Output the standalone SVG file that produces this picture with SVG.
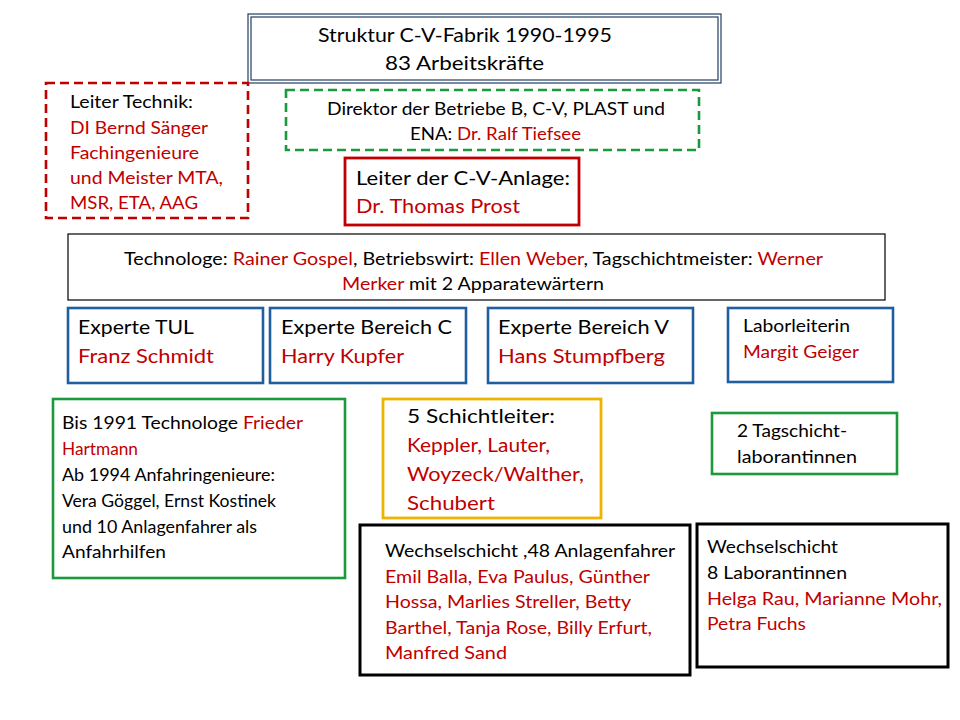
<svg xmlns="http://www.w3.org/2000/svg" width="960" height="720" viewBox="0 0 960 720">
<style>
text{font-family:Lato,"Open Sans","Liberation Sans",sans-serif;fill:#000}
.r{fill:#C00000}
.f16{font-size:16.5px}
.f19{font-size:19.5px}
.f20{font-size:20px}
.box{fill:#fff}
.blue{stroke:#1F5FA0;stroke-width:2.6}
.green{stroke:#1A9A3A;stroke-width:2.6}
</style>
<rect width="960" height="720" fill="#fff"/>
<g id="title">
<rect x="248" y="14" width="473" height="69" class="box" stroke="#243F60" stroke-width="1.2"/>
<rect x="251" y="17" width="467" height="63" fill="none" stroke="#243F60" stroke-width="1.2"/>
<text class="f20" x="318" y="42" textLength="294" lengthAdjust="spacingAndGlyphs">Struktur C-V-Fabrik 1990-1995</text>
<text class="f20" x="385" y="70" textLength="159" lengthAdjust="spacingAndGlyphs">83 Arbeitskräfte</text>
</g>
<g id="leiter-technik">
<rect x="46" y="83" width="202" height="135" class="box" stroke="#C00000" stroke-width="2.6" stroke-dasharray="9,5"/>
<text class="f16" x="70" y="108" textLength="123" lengthAdjust="spacingAndGlyphs">Leiter Technik:</text>
<text class="f16 r" x="70" y="134" textLength="138" lengthAdjust="spacingAndGlyphs">DI Bernd Sänger</text>
<text class="f16 r" x="70" y="159" textLength="129" lengthAdjust="spacingAndGlyphs">Fachingenieure</text>
<text class="f16 r" x="70" y="184" textLength="153" lengthAdjust="spacingAndGlyphs">und Meister MTA,</text>
<text class="f16 r" x="70" y="209" textLength="128" lengthAdjust="spacingAndGlyphs">MSR, ETA, AAG</text>
</g>
<g id="direktor">
<rect x="286" y="90" width="413" height="60" class="box" stroke="#1A9A3A" stroke-width="2.6" stroke-dasharray="9,5"/>
<text class="f16" x="327" y="115" textLength="338" lengthAdjust="spacingAndGlyphs">Direktor der Betriebe  B, C-V, PLAST und</text>
<text class="f16" x="410" y="140" textLength="171" lengthAdjust="spacingAndGlyphs">ENA: <tspan class="r">Dr. Ralf Tiefsee</tspan></text>
</g>
<g id="leiter-cv">
<rect x="345" y="158" width="234" height="67" class="box" stroke="#C00000" stroke-width="2.8"/>
<text class="f19" x="356" y="185" textLength="214" lengthAdjust="spacingAndGlyphs">Leiter der C-V-Anlage:</text>
<text class="f19 r" x="356" y="213" textLength="164" lengthAdjust="spacingAndGlyphs">Dr. Thomas Prost</text>
</g>
<g id="technologe">
<rect x="68" y="234" width="817" height="66" class="box" stroke="#000" stroke-width="1.2"/>
<text class="f16" x="124" y="265" textLength="699" lengthAdjust="spacingAndGlyphs">Technologe: <tspan class="r">Rainer Gospel</tspan>, Betriebswirt: <tspan class="r">Ellen Weber</tspan>, Tagschichtmeister: <tspan class="r">Werner</tspan></text>
<text class="f16" x="342" y="290" textLength="262" lengthAdjust="spacingAndGlyphs"><tspan class="r">Merker</tspan> mit 2 Apparatewärtern</text>
</g>
<g id="experte-tul">
<rect x="68" y="308" width="195" height="75" class="box blue"/>
<text class="f19" x="78" y="334" textLength="116" lengthAdjust="spacingAndGlyphs">Experte TUL</text>
<text class="f19 r" x="78" y="363" textLength="136" lengthAdjust="spacingAndGlyphs">Franz Schmidt</text>
</g>
<g id="experte-c">
<rect x="270" y="308" width="196" height="75" class="box blue"/>
<text class="f19" x="281" y="334" textLength="171" lengthAdjust="spacingAndGlyphs">Experte Bereich C</text>
<text class="f19 r" x="281" y="363" textLength="123" lengthAdjust="spacingAndGlyphs">Harry Kupfer</text>
</g>
<g id="experte-v">
<rect x="488" y="308" width="205" height="75" class="box blue"/>
<text class="f19" x="498" y="334" textLength="171" lengthAdjust="spacingAndGlyphs">Experte Bereich V</text>
<text class="f19 r" x="498" y="363" textLength="167" lengthAdjust="spacingAndGlyphs">Hans Stumpfberg</text>
</g>
<g id="laborleiterin">
<rect x="728" y="308" width="165" height="74" class="box blue"/>
<text class="f16" x="743" y="332" textLength="107" lengthAdjust="spacingAndGlyphs">Laborleiterin</text>
<text class="f16 r" x="743" y="358" textLength="116" lengthAdjust="spacingAndGlyphs">Margit Geiger</text>
</g>
<g id="anfahr">
<rect x="53" y="399" width="292" height="179" class="box green"/>
<text class="f16" x="62" y="429" textLength="241" lengthAdjust="spacingAndGlyphs">Bis 1991 Technologe <tspan class="r">Frieder</tspan></text>
<text class="f16 r" x="62" y="455" textLength="76" lengthAdjust="spacingAndGlyphs">Hartmann</text>
<text class="f16" x="62" y="481" textLength="213" lengthAdjust="spacingAndGlyphs">Ab 1994 Anfahringenieure:</text>
<text class="f16" x="62" y="507" textLength="214" lengthAdjust="spacingAndGlyphs">Vera Göggel, Ernst  Kostinek</text>
<text class="f16" x="62" y="533" textLength="195" lengthAdjust="spacingAndGlyphs">und 10 Anlagenfahrer als</text>
<text class="f16" x="62" y="558" textLength="104" lengthAdjust="spacingAndGlyphs">Anfahrhilfen</text>
</g>
<g id="schichtleiter">
<rect x="383" y="399" width="218" height="119" class="box" stroke="#EDB400" stroke-width="2.8"/>
<text class="f19" x="407" y="423" textLength="148" lengthAdjust="spacingAndGlyphs">5 Schichtleiter:</text>
<text class="f19 r" x="407" y="452" textLength="143" lengthAdjust="spacingAndGlyphs">Keppler, Lauter,</text>
<text class="f19 r" x="407" y="481" textLength="177" lengthAdjust="spacingAndGlyphs">Woyzeck/Walther,</text>
<text class="f19 r" x="407" y="510" textLength="88" lengthAdjust="spacingAndGlyphs">Schubert</text>
</g>
<g id="tagschicht">
<rect x="712" y="413" width="185" height="61" class="box green"/>
<text class="f16" x="737" y="437" textLength="110" lengthAdjust="spacingAndGlyphs">2 Tagschicht-</text>
<text class="f16" x="737" y="463" textLength="120" lengthAdjust="spacingAndGlyphs">laborantinnen</text>
</g>
<g id="wechsel-anlagen">
<rect x="360" y="525" width="330" height="150" class="box" stroke="#000" stroke-width="3"/>
<text class="f16" x="385" y="557" textLength="290" lengthAdjust="spacingAndGlyphs">Wechselschicht ,48 Anlagenfahrer</text>
<text class="f16 r" x="385" y="583" textLength="265" lengthAdjust="spacingAndGlyphs">Emil Balla, Eva Paulus, Günther</text>
<text class="f16 r" x="385" y="608" textLength="246" lengthAdjust="spacingAndGlyphs">Hossa, Marlies Streller, Betty</text>
<text class="f16 r" x="385" y="634" textLength="267" lengthAdjust="spacingAndGlyphs">Barthel, Tanja Rose, Billy Erfurt,</text>
<text class="f16 r" x="385" y="659" textLength="122" lengthAdjust="spacingAndGlyphs">Manfred  Sand</text>
</g>
<g id="wechsel-labor">
<rect x="697" y="524" width="251" height="143" class="box" stroke="#000" stroke-width="3"/>
<text class="f16" x="707" y="553" textLength="131" lengthAdjust="spacingAndGlyphs">Wechselschicht</text>
<text class="f16" x="707" y="579" textLength="140" lengthAdjust="spacingAndGlyphs">8 Laborantinnen</text>
<text class="f16 r" x="707" y="605" textLength="235" lengthAdjust="spacingAndGlyphs">Helga Rau, Marianne Mohr,</text>
<text class="f16 r" x="707" y="630" textLength="99" lengthAdjust="spacingAndGlyphs">Petra Fuchs</text>
</g>
<g id="connectors"></g>
</svg>
